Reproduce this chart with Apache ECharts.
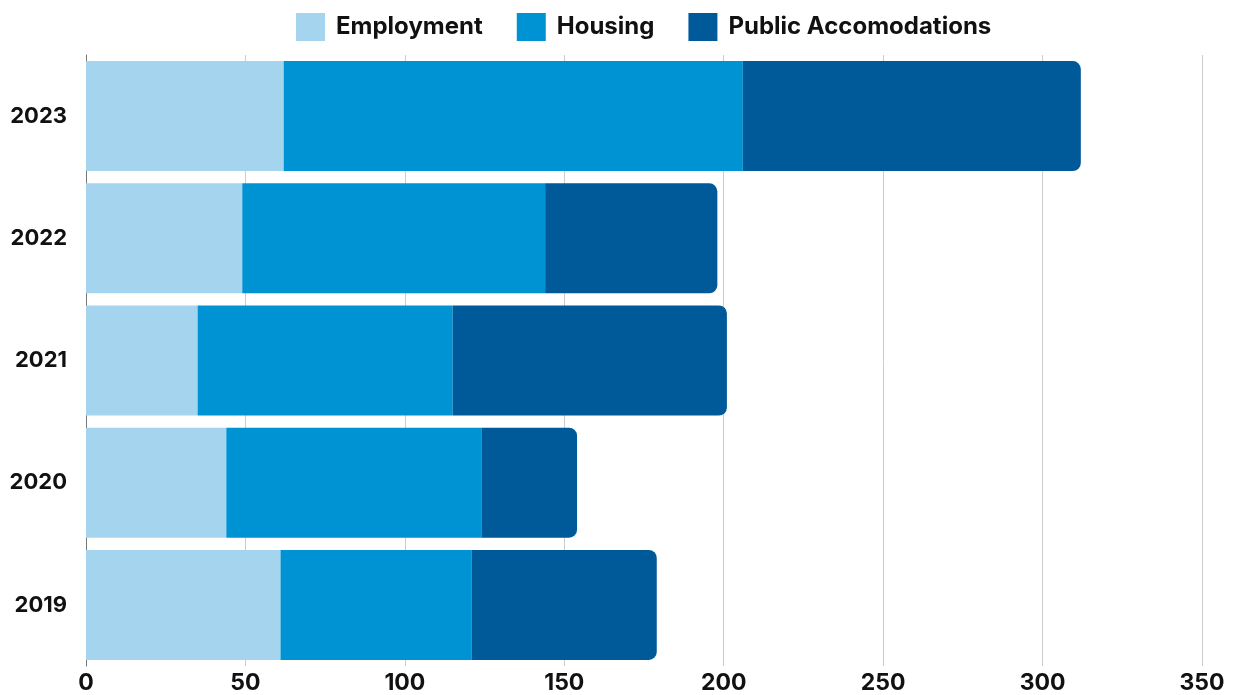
<!DOCTYPE html>
<html>
<head>
<meta charset="utf-8">
<script src="https://cdn.jsdelivr.net/npm/echarts@6/dist/echarts.min.js"></script>
<style>
html,body{margin:0;padding:0;background:#fff;}
#chart{width:1234px;height:695px;}
</style>
</head>
<body>
<div id="chart"></div>
<script>
const years = ['2023', '2022', '2021', '2020', '2019'];
const employment = [62, 49, 35, 44, 61];
const housing = [144, 95, 80, 80, 60];
const publicAcc = [106, 54, 86, 30, 58];
const xTicks = [0, 50, 100, 150, 200, 250, 300, 350];

const FONT = 'Inter, "Open Sans", sans-serif';
const chart = echarts.init(document.getElementById('chart'));
chart.setOption({
  animation: false,
  backgroundColor: '#ffffff',
  legend: {
    top: 8,
    left: 291,
    itemWidth: 29,
    itemHeight: 28,
    itemGap: 34,
    icon: 'rect',
    textStyle: { fontFamily: FONT, fontSize: 24, fontWeight: 'bold', color: '#111', padding: [0, 0, 0, 6] },
    data: ['Employment', 'Housing', 'Public Accomodations']
  },
  grid: { left: 86, right: 32, top: 55, bottom: 28, containLabel: false },
  xAxis: {
    type: 'value',
    min: xTicks[0],
    max: xTicks[xTicks.length - 1],
    interval: 50,
    axisLine: { show: false },
    axisTick: { show: false },
    splitLine: { show: true, lineStyle: { color: '#cccccc', width: 1 } },
    axisLabel: { fontFamily: FONT, fontSize: 23, fontWeight: 'bold', color: '#111', margin: 6 }
  },
  yAxis: {
    type: 'category',
    data: years,
    inverse: true,
    axisLine: { show: true, lineStyle: { color: '#777777', width: 1 } },
    axisTick: { show: false },
    axisLabel: { fontFamily: FONT, fontSize: 22, fontWeight: 'bold', color: '#111', margin: 19 }
  },
  series: [
    { name: 'Employment', type: 'bar', stack: 'total', data: employment, barWidth: 110, itemStyle: { color: '#A5D5EE' } },
    { name: 'Housing', type: 'bar', stack: 'total', data: housing, barWidth: 110, itemStyle: { color: '#0093D3' } },
    { name: 'Public Accomodations', type: 'bar', stack: 'total', data: publicAcc, barWidth: 110, itemStyle: { color: '#005A99', borderRadius: [0, 8, 8, 0] } }
  ]
});
</script>
</body>
</html>
